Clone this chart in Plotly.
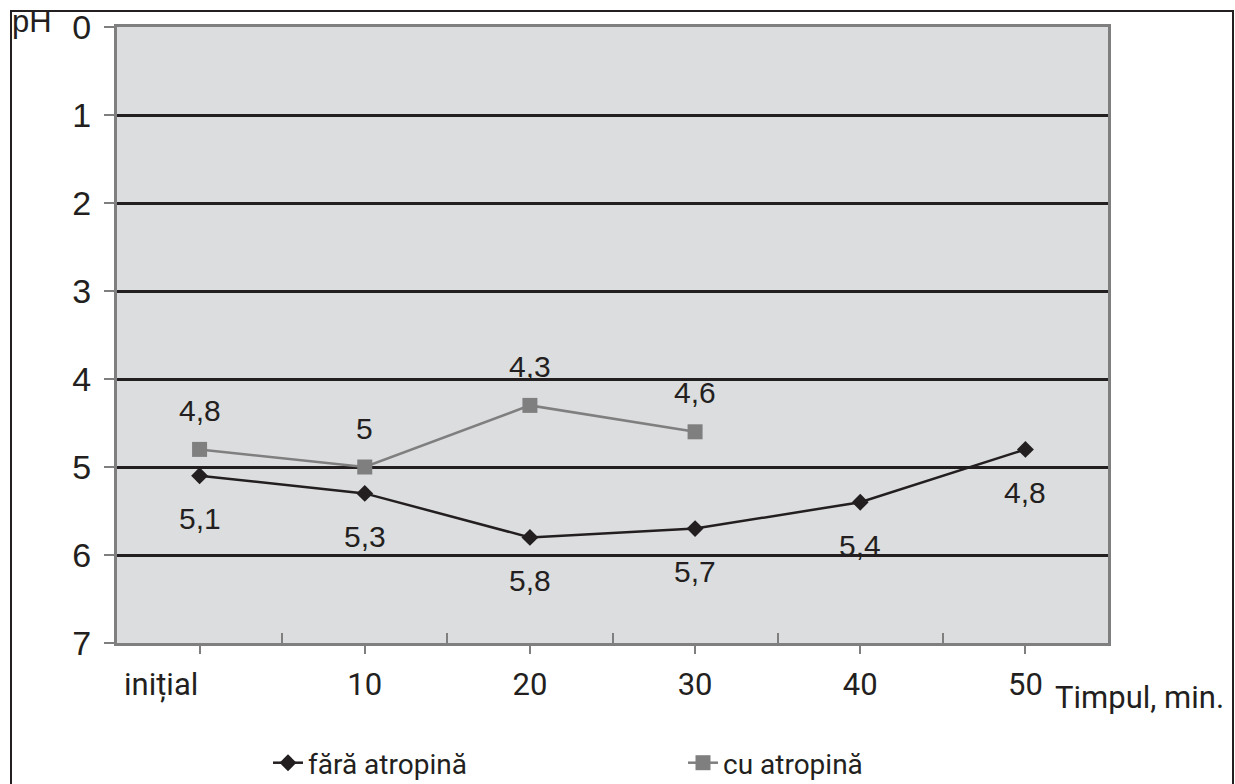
import plotly.graph_objects as go

categories = ["inițial", "10", "20", "30", "40", "50"]
fara_atropina = [5.1, 5.3, 5.8, 5.7, 5.4, 4.8]
cu_atropina = [4.8, 5.0, 4.3, 4.6, None, None]
y_ticks = [0, 1, 2, 3, 4, 5, 6, 7]
tick_text = ["inițial" + "\u00a0" * 10, "10", "20", "30", "40", "50"]

BLACK = "#231f20"
GRAY = "#7f7f80"
NUM_FONT = "Liberation Sans Narrow, Liberation Sans"
TXT_FONT = "Roboto"

fig = go.Figure()
fig.add_trace(go.Scatter(
    x=categories, y=fara_atropina, mode="lines+markers", name="fără atropină",
    line=dict(color=BLACK, width=2.5),
    marker=dict(symbol="diamond", size=13, color=BLACK),
))
fig.add_trace(go.Scatter(
    x=categories, y=cu_atropina, mode="lines+markers", name="cu atropină",
    line=dict(color=GRAY, width=2.5),
    marker=dict(symbol="square", size=15, color=GRAY),
))
# invisible trace on overlay axis for boundary ticks
fig.add_trace(go.Scatter(x=[0], y=[0], xaxis="x2", mode="markers",
                         marker=dict(opacity=0), showlegend=False, hoverinfo="skip"))

def fmt(v):
    return f"{v:g}".replace(".", ",")

annotations = []
for i, v in enumerate(fara_atropina):
    annotations.append(dict(x=i, y=v, xref="x", yref="y", text=fmt(v), showarrow=False,
                            yshift=-43, font=dict(family=NUM_FONT, size=30, color=BLACK)))
for i, v in enumerate(cu_atropina):
    if v is None:
        continue
    annotations.append(dict(x=i, y=v, xref="x", yref="y", text=fmt(v), showarrow=False,
                            yshift=39, font=dict(family=NUM_FONT, size=30, color=BLACK)))

annotations.append(dict(x=(10 - 117) / 991, y=(643 - 22) / 616, xref="paper", yref="paper",
                        xanchor="left", yanchor="middle", text="pH", showarrow=False,
                        font=dict(family=NUM_FONT, size=31, color=BLACK)))
annotations.append(dict(x=(1053 - 117) / 991, y=(643 - 698) / 616, xref="paper", yref="paper",
                        xanchor="left", yanchor="middle", text="Timpul, min.", showarrow=False,
                        font=dict(family=TXT_FONT, size=31, color=BLACK)))

fig.update_layout(
    width=1235, height=784,
    margin=dict(l=117, r=127, t=27, b=141, autoexpand=False),
    paper_bgcolor="white",
    plot_bgcolor="#dcdddf",
    annotations=annotations,
    showlegend=True,
    legend=dict(orientation="h", x=(268 - 117) / 991, y=(643 - 763) / 616,
                xanchor="left", yanchor="middle",
                font=dict(family=TXT_FONT, size=28, color=BLACK),
                entrywidth=370, bgcolor="rgba(0,0,0,0)"),
    xaxis=dict(type="category", range=[-0.5, 5.5], tickvals=categories, ticktext=tick_text,
               ticks="outside", ticklen=8, tickwidth=2, tickcolor=GRAY,
               showline=True, linecolor=GRAY, linewidth=3, mirror=True,
               showgrid=False, zeroline=False,
               tickfont=dict(family=TXT_FONT, size=31, color=BLACK), ticklabelstandoff=4),
    xaxis2=dict(overlaying="x", range=[-0.5, 5.5], tickvals=[0.5, 1.5, 2.5, 3.5, 4.5],
                ticks="inside", ticklen=10, tickwidth=2, tickcolor=GRAY,
                showticklabels=False, showgrid=False, zeroline=False, showline=False,
                side="bottom"),
    yaxis=dict(range=[7, 0], tickvals=y_ticks, ticks="outside", ticklen=10, tickwidth=2,
               tickcolor=GRAY, showline=True, linecolor=GRAY, linewidth=3, mirror=True,
               showgrid=True, gridcolor=BLACK, gridwidth=2.5, zeroline=False,
               tickfont=dict(family=NUM_FONT, size=34, color=BLACK), ticklabelstandoff=6),
    shapes=[dict(type="rect", xref="paper", yref="paper",
                 x0=(11 - 117) / 991, x1=(1233 - 117) / 991,
                 y0=(643 - 830) / 616, y1=(643 - 11) / 616,
                 line=dict(color=BLACK, width=2), layer="below")],
)

fig.write_html("out.html")
